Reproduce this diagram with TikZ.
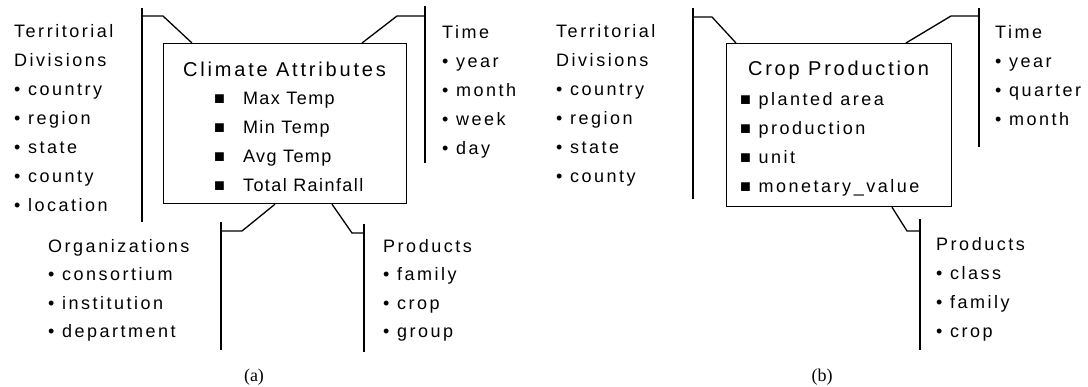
\documentclass[tikz,border=0pt]{standalone}
\usepackage{fontspec}
\setmainfont{Liberation Sans}[LetterSpace=14]
\newfontfamily\boxfont{Liberation Sans}[LetterSpace=8]
\newfontfamily\capfont{Liberation Serif}
\usetikzlibrary{calc}
\begin{document}
\begin{tikzpicture}[x=1pt,y=-1pt,
  lbl/.style={anchor=base west, inner sep=0pt, font=\fontsize{18}{22}\selectfont},
  itm/.style={anchor=base west, inner sep=0pt, font=\boxfont\fontsize{18}{22}\selectfont},
  ttl/.style={anchor=base, inner sep=0pt, font=\fontsize{20}{24}\selectfont},
  subcap/.style={anchor=base, inner sep=0pt, font=\capfont\fontsize{18}{22}\selectfont},
  factbox/.style={draw, line width=1.2pt, anchor=north west, inner sep=0pt},
  brk/.style={line width=1.3pt}]
\useasboundingbox (0,0) rectangle (1088,386);

% ================= (a) =================
\node[factbox, minimum width=243pt, minimum height=160pt] (boxa) at (163,43) {};
\node[ttl] (ta) at (284.5,76) {Climate Attributes};
\foreach \t [count=\i] in {Max Temp, Min Temp, Avg Temp, Total Rainfall}
  \node[itm] (ia\i) at (214,{104+29*(\i-1)}) {■\hspace{18pt}\t};

\foreach \t [count=\i] in {Territorial, Divisions, • country, • region, • state, • county, • location}
  \node[lbl] (da\i) at (14,{37+29*(\i-1)}) {\t};
\foreach \t [count=\i] in {Time, • year, • month, • week, • day}
  \node[lbl] (ma\i) at (442,{38+29*(\i-1)}) {\t};
\foreach \t [count=\i] in {Organizations, • consortium, • institution, • department}
  \node[lbl] (oa\i) at (48,{252+28.5*(\i-1)}) {\t};
\foreach \t [count=\i] in {Products, • family, • crop, • group}
  \node[lbl] (pa\i) at (383,{252+28.5*(\i-1)}) {\t};
\node[subcap] (capa) at (254,381) {(a)};

% brackets (a)
\coordinate (alt) at (142,8);   \coordinate (alb) at (142,222);
\coordinate (alk) at (142,16);  \coordinate (ale) at (163,16);
\draw[brk] (alt) -- (alb);
\draw[brk] (alk) -- (ale) -- ($(boxa.north west)+(29,0)$);

\coordinate (amt) at (425,6);   \coordinate (amb) at (425,163);
\coordinate (amk) at (425,16);  \coordinate (ame) at (397,16);
\draw[brk] (amt) -- (amb);
\draw[brk] (amk) -- (ame) -- ($(boxa.north west)+(199,0)$);

\coordinate (aot) at (221,222); \coordinate (aob) at (221,350);
\coordinate (aok) at (221,231); \coordinate (aoe) at (242,231);
\draw[brk] (aot) -- (aob);
\draw[brk] (aok) -- (aoe) -- ($(boxa.south west)+(112,0)$);

\coordinate (apt) at (364,224); \coordinate (apb) at (364,352);
\coordinate (apk) at (364,233); \coordinate (ape) at (352,233);
\draw[brk] (apt) -- (apb);
\draw[brk] (apk) -- (ape) -- ($(boxa.south west)+(169,0)$);

% ================= (b) =================
\node[factbox, minimum width=225pt, minimum height=163pt] (boxb) at (726,43) {};
\node[ttl] (tb) at (838.5,75) {Crop Production};
\foreach \t [count=\i] in {planted area, production, unit, monetary\_value}
  \node[lbl] (ib\i) at (740,{105+29*(\i-1)}) {■ \t};

\foreach \t [count=\i] in {Territorial, Divisions, • country, • region, • state, • county}
  \node[lbl] (db\i) at (556,{37+29*(\i-1)}) {\t};
\foreach \t [count=\i] in {Time, • year, • quarter, • month}
  \node[lbl] (mb\i) at (995,{38+29*(\i-1)}) {\t};
\foreach \t [count=\i] in {Products, • class, • family, • crop}
  \node[lbl] (pb\i) at (936,{250+29*(\i-1)}) {\t};
\node[subcap] (capb) at (822,381) {(b)};

% brackets (b)
\coordinate (blt) at (693,8);   \coordinate (blb) at (693,199);
\coordinate (blk) at (693,17);  \coordinate (ble) at (712,17);
\draw[brk] (blt) -- (blb);
\draw[brk] (blk) -- (ble) -- ($(boxb.north west)+(10,0)$);

\coordinate (bmt) at (979,8);   \coordinate (bmb) at (979,147);
\coordinate (bmk) at (979,16);  \coordinate (bme) at (951,16);
\draw[brk] (bmt) -- (bmb);
\draw[brk] (bmk) -- (bme) -- ($(boxb.north west)+(180,0)$);

\coordinate (bpt) at (920,219); \coordinate (bpb) at (920,350);
\coordinate (bpk) at (920,231); \coordinate (bpe) at (907,231);
\draw[brk] (bpt) -- (bpb);
\draw[brk] (bpk) -- (bpe) -- ($(boxb.south west)+(166,0)$);
\end{tikzpicture}
\end{document}
